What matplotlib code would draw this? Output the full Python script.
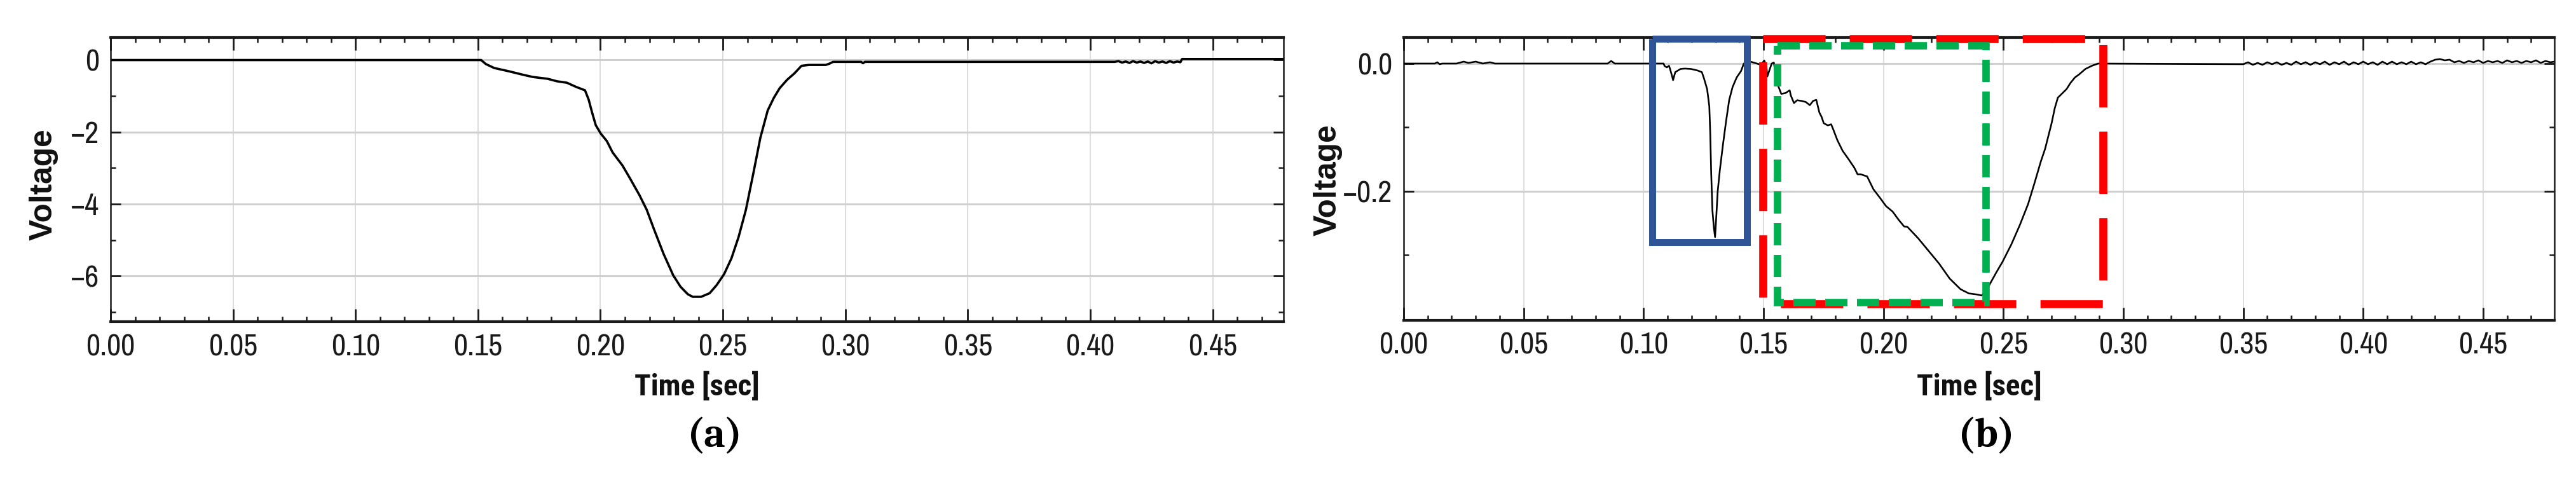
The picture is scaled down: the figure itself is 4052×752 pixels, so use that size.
import matplotlib
matplotlib.use("Agg")
import math
import matplotlib.pyplot as plt
from matplotlib import font_manager as fm
from matplotlib.textpath import TextPath

# ---------------- data ----------------
# panel (a)
t_a = [0.0000, 0.1513, 0.1532, 0.1566, 0.1625, 0.1685, 0.1724, 0.1784, 0.1823,
       0.1863, 0.1902, 0.1937, 0.1952, 0.1966, 0.1981, 0.2001, 0.2026, 0.2050,
       0.2090, 0.2120, 0.2159, 0.2189, 0.2218, 0.2258, 0.2297, 0.2327, 0.2357,
       0.2377, 0.2411, 0.2446, 0.2475, 0.2505, 0.2535, 0.2564, 0.2594, 0.2624,
       0.2653, 0.2683, 0.2708, 0.2732, 0.2762, 0.2792, 0.2821, 0.2851, 0.2920,
       0.2935, 0.2950, 0.3065, 0.3072, 0.3080,
       0.4100, 0.4115, 0.4130, 0.4145, 0.4160, 0.4175, 0.4190, 0.4205, 0.4220,
       0.4235, 0.4250, 0.4265, 0.4280, 0.4295, 0.4310, 0.4325, 0.4340, 0.4355,
       0.4368, 0.4375, 0.4788]
v_a = [0.00, 0.00, -0.11, -0.22, -0.31, -0.41, -0.47, -0.52, -0.59,
       -0.63, -0.75, -0.84, -1.10, -1.46, -1.81, -2.04, -2.25, -2.57,
       -2.93, -3.28, -3.75, -4.16, -4.69, -5.39, -5.98, -6.30, -6.51,
       -6.58, -6.58, -6.48, -6.25, -5.95, -5.51, -4.92, -4.16, -3.16,
       -2.16, -1.40, -1.05, -0.78, -0.55, -0.37, -0.16, -0.135, -0.135,
       -0.10, -0.05, -0.05, -0.09, -0.05,
       -0.05, -0.03, -0.07, -0.04, -0.08, -0.03, -0.07, -0.04, -0.08,
       -0.04, -0.09, -0.03, -0.07, -0.04, -0.08, -0.03, -0.07, -0.04,
       -0.06, 0.03, 0.03]

# panel (b): main event
t_b_main = [0.0000, 0.0130, 0.0140, 0.0150, 0.0160, 0.0220, 0.0250, 0.0270, 0.0300,
            0.0330, 0.0360, 0.0380, 0.0850, 0.0865, 0.0880, 0.1083, 0.1088, 0.1097,
            0.1106, 0.1110, 0.1119, 0.1123, 0.1132, 0.1154, 0.1172, 0.1198, 0.1225,
            0.1243, 0.1252, 0.1265, 0.1274, 0.1278, 0.1282, 0.1287, 0.1293, 0.1298,
            0.1302, 0.1309, 0.1318, 0.1331, 0.1344, 0.1357, 0.1371, 0.1388, 0.1406,
            0.1418, 0.1437, 0.1450, 0.1472, 0.1490, 0.1503, 0.1512, 0.1516, 0.1525,
            0.1534, 0.1543, 0.1556, 0.1574, 0.1592, 0.1609, 0.1614, 0.1627, 0.1640,
            0.1658, 0.1676, 0.1693, 0.1707, 0.1720, 0.1733, 0.1742, 0.1751, 0.1768,
            0.1782, 0.1791, 0.1808, 0.1830, 0.1852, 0.1879, 0.1892, 0.1905, 0.1932,
            0.1958, 0.1985, 0.2011, 0.2038, 0.2064, 0.2086, 0.2100, 0.2144, 0.2188,
            0.2232, 0.2276, 0.2321, 0.2356, 0.2391, 0.2409, 0.2427, 0.2444, 0.2471,
            0.2497, 0.2533, 0.2568, 0.2603, 0.2630, 0.2656, 0.2674, 0.2701, 0.2714,
            0.2727, 0.2745, 0.2763, 0.2780, 0.2798, 0.2816, 0.2842, 0.2869, 0.2895]
v_b_main = [0.000, 0.000, 0.002, -0.001, 0.000, 0.000, 0.003, 0.001, 0.003,
            0.000, 0.002, 0.000, 0.000, 0.004, 0.000, 0.000, -0.004, -0.006,
            -0.0035, -0.008, -0.020, -0.026, -0.0135, -0.0085, -0.0079, -0.0085, -0.0109,
            -0.0135, -0.0235, -0.0402, -0.0669, -0.1102, -0.1735, -0.2302, -0.2569, -0.2719,
            -0.2469, -0.2002, -0.1669, -0.1269, -0.0902, -0.0569, -0.0369, -0.0219, -0.0119,
            0.000, 0.0031, 0.0025, 0.000, -0.0019, 0.0048, -0.0035, -0.0202, -0.0100,
            0.000, 0.0015, -0.030, -0.0475, -0.0462, -0.0419, -0.0502, -0.0619, -0.0575,
            -0.0585, -0.0602, -0.0652, -0.0585, -0.0569, -0.0769, -0.0835, -0.0935, -0.0969,
            -0.0952, -0.1035, -0.1202, -0.1369, -0.1485, -0.1635, -0.1735, -0.1735, -0.1769,
            -0.1969, -0.2102, -0.2235, -0.2319, -0.2452, -0.2552, -0.2560, -0.2735, -0.2935,
            -0.3135, -0.3369, -0.3535, -0.3602, -0.3619, -0.3635, -0.3569, -0.3452, -0.3269,
            -0.3102, -0.2835, -0.2535, -0.2202, -0.1869, -0.1535, -0.1335, -0.0935, -0.0702,
            -0.0535, -0.0469, -0.0402, -0.0302, -0.0219, -0.0169, -0.0085, -0.0035, 0.000]
# panel (b): noisy tail
t_b_tail = [0.350, 0.352, 0.354, 0.356, 0.358, 0.360, 0.362, 0.364, 0.366, 0.368,
            0.370, 0.372, 0.374, 0.376, 0.378, 0.380, 0.382, 0.384, 0.386, 0.388,
            0.390, 0.392, 0.394, 0.396, 0.398, 0.400, 0.402, 0.404, 0.406, 0.408,
            0.410, 0.412, 0.414, 0.416, 0.418, 0.420, 0.422, 0.424, 0.426, 0.428,
            0.430, 0.432, 0.434, 0.436,
            0.438, 0.440, 0.442, 0.444, 0.446, 0.448, 0.450, 0.452, 0.454, 0.456,
            0.458, 0.460, 0.462, 0.464, 0.466, 0.468, 0.470, 0.472, 0.474, 0.476,
            0.478, 0.4797]
v_b_tail = [-0.001, 0.002, -0.002, 0.001, -0.002, 0.002, -0.001, 0.002, -0.002, 0.001,
            -0.002, 0.003, -0.001, 0.002, -0.002, 0.002, -0.001, 0.003, -0.002, 0.002,
            -0.001, 0.003, -0.002, 0.002, -0.001, 0.003, -0.001, 0.002, -0.002, 0.003,
            -0.001, 0.003, -0.001, 0.002, -0.001, 0.003, -0.001, 0.002, -0.001, 0.003,
            0.006, 0.007, 0.005, 0.006,
            0.002, 0.004, 0.001, 0.004, 0.002, 0.005, 0.001, 0.004, 0.002, 0.004,
            0.001, 0.005, 0.002, 0.004, 0.001, 0.004, 0.002, 0.005, 0.001, 0.004,
            0.002, 0.003]

# annotation boxes on panel (b): [t_left, t_right, v_bottom, v_top]
blue_box = [0.1037, 0.1432, -0.280, 0.0385]
red_box = [0.1498, 0.2915, -0.377, 0.039]
green_box = [0.1558, 0.2427, -0.3747, 0.0278]

x_major = [0.00, 0.05, 0.10, 0.15, 0.20, 0.25, 0.30, 0.35, 0.40, 0.45]
x_labels = ["0.00", "0.05", "0.10", "0.15", "0.20", "0.25", "0.30", "0.35", "0.40", "0.45"]
x_minor = [i / 100 for i in range(0, 48)]
ya_major = [0, -2, -4, -6]
ya_labels = ["0", "\u22122", "\u22124", "\u22126"]
ya_minor = [-1, -3, -5, -7]
yb_major = [0.0, -0.2]
yb_labels = ["0.0", "\u22120.2"]
yb_minor = [-0.1, -0.3]


def first_available(cands, default, need_bold=False):
    for c in cands:
        entries = [f for f in fm.fontManager.ttflist if f.name == c]
        if not entries:
            continue
        if need_bold:
            ok = any(isinstance(f.weight, int) and f.weight >= 600 and f.style == "normal"
                     for f in entries)
            if not ok:
                continue
        return c
    return default


narrow_list = ["Liberation Sans Narrow", "Arial Narrow", "Archivo Narrow",
               "Roboto Condensed", "PT Sans Narrow", "Pragati Narrow",
               "IBM Plex Sans Condensed", "Fira Sans Condensed", "Encode Sans Condensed"]
narrow = first_available(narrow_list, "Liberation Sans")
narrow_bold = first_available(narrow_list, "Liberation Sans", need_bold=True)
arial = first_available(["Liberation Sans", "Arimo"], "DejaVu Sans", need_bold=True)
cambria = first_available(["Caladea", "Liberation Serif"], "DejaVu Serif", need_bold=True)

plt.rcParams["font.family"] = [narrow, "DejaVu Sans"]
plt.rcParams["lines.scale_dashes"] = False

W, H = 4052, 752
fig = plt.figure(figsize=(W / 100, H / 100), dpi=100)
fig.patch.set_facecolor("white")
renderer = fig.canvas.get_renderer()


def fit_size(text, family, weight, target_w, ink_char=None, target_h=None, base=34.0):
    t = fig.text(0, 0, text, fontsize=base, family=[family, "DejaVu Sans"],
                 fontweight=weight)
    w = t.get_window_extent(renderer).width
    t.remove()
    size_w = base * target_w / w
    if ink_char is None:
        return size_w
    prop = fm.FontProperties(family=[family, "DejaVu Sans"], weight=weight)
    tp = TextPath((0, 0), ink_char, size=100, prop=prop)
    h_em = tp.get_extents().height / 100.0
    size_h = (target_h / h_em) * 72.0 / 100.0
    return math.sqrt(size_w * size_h)


tick_fs = fit_size("0.00", narrow, "normal", 78, "0", 34)
time_fs = fit_size("Time [sec]", narrow_bold, "bold", 195, "T", 34)
volt_fs = fit_size("Voltage", arial, "bold", 176)
panel_fs = fit_size("(a)", cambria, "bold", 86)

axA = fig.add_axes([174 / W, 1 - 506 / H, (2018.5 - 174) / W, (506 - 58.5) / H])
axB = fig.add_axes([2208 / W, 1 - 503.6 / H, (4018 - 2208) / W, (503.6 - 58.5) / H])


def style(ax, xlim, ylim, ymaj, ylab, ymin):
    ax.set_xlim(*xlim)
    ax.set_ylim(*ylim)
    ax.set_xticks(x_major)
    ax.set_xticklabels(x_labels)
    ax.set_xticks(x_minor, minor=True)
    ax.set_yticks(ymaj)
    ax.set_yticklabels(ylab)
    ax.set_yticks(ymin, minor=True)
    ax.tick_params(which="both", direction="in", top=True, right=True,
                   color="#1a1a1a", labelcolor="#1a1a1a")
    ax.tick_params(axis="x", which="major", length=14.4, width=2.0, pad=13,
                   labelsize=tick_fs)
    ax.tick_params(axis="x", which="minor", length=5.5, width=1.8)
    ax.tick_params(axis="y", which="major", length=11.5, width=2.0, pad=13,
                   labelsize=tick_fs)
    ax.tick_params(axis="y", which="minor", length=5.5, width=1.8)
    for s in ["top", "bottom"]:
        ax.spines[s].set_linewidth(3.0)
        ax.spines[s].set_color("#1a1a1a")
    for s in ["left", "right"]:
        ax.spines[s].set_linewidth(1.8)
        ax.spines[s].set_color("#1a1a1a")
    ax.set_axisbelow(True)
    ax.grid(axis="y", which="major", color="#cfcfcf", linewidth=2.2)
    ax.grid(axis="x", which="major", color="#dddddd", linewidth=1.4)


style(axA, (0, 0.4788), (-7.27, 0.636), ya_major, ya_labels, ya_minor)
style(axB, (0, 0.4797), (-0.402, 0.0413), yb_major, yb_labels, yb_minor)

axA.plot(t_a, v_a, color="black", linewidth=2.6, zorder=3)
axB.plot(t_b_main + t_b_tail, v_b_main + v_b_tail, color="black", linewidth=1.9, zorder=3)


def box(ax, b, color, lw, dashes=None, z=6):
    x0, x1, y0, y1 = b
    xs = [x0, x1, x1, x0, x0]
    ys = [y1, y1, y0, y0, y1]
    ln, = ax.plot(xs, ys, color=color, linewidth=lw, zorder=z, clip_on=False,
                  solid_joinstyle="miter", dash_joinstyle="miter",
                  solid_capstyle="butt", dash_capstyle="butt")
    if dashes is not None:
        ln.set_dashes(dashes)
    return ln


box(axB, blue_box, "#2F5597", 7.9, z=6)
box(axB, red_box, "#FF0000", 9.1, dashes=(70.6, 27.4), z=7)
box(axB, green_box, "#00B050", 8.4, dashes=(25.2, 10.8), z=8)

# axis titles
for xc in (1096, 3113):
    fig.text(xc / W, 1 - 622 / H, "Time [sec]", ha="center", va="baseline",
             fontsize=time_fs, fontweight="bold", color="#111111",
             family=[narrow_bold, "DejaVu Sans"])
fig.text(69 / W, 1 - 290 / H, "Voltage", rotation=90, ha="center", va="center",
         fontsize=volt_fs, fontweight="bold", family=[arial, "DejaVu Sans"],
         color="#111111")
fig.text(2089 / W, 1 - 283 / H, "Voltage", rotation=90, ha="center", va="center",
         fontsize=volt_fs, fontweight="bold", family=[arial, "DejaVu Sans"],
         color="#111111")

# panel letters
fig.text(1124 / W, 1 - 703 / H, "(a)", ha="center", va="baseline", fontsize=panel_fs,
         fontweight="bold", family=[cambria, "DejaVu Serif"], color="black")
fig.text(3125 / W, 1 - 703 / H, "(b)", ha="center", va="baseline", fontsize=panel_fs,
         fontweight="bold", family=[cambria, "DejaVu Serif"], color="black")

fig.savefig("out.png", dpi=100, facecolor="white")
